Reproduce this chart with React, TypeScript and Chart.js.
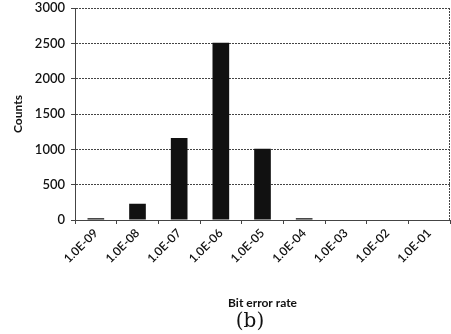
import React, { useEffect, useRef } from "react";
import { Chart, registerables } from "chart.js";

Chart.register(...registerables);

const categories = ["1.0E-09", "1.0E-08", "1.0E-07", "1.0E-06", "1.0E-05", "1.0E-04", "1.0E-03", "1.0E-02", "1.0E-01"];
const counts = [25, 230, 1160, 2510, 1010, 25, 0, 0, 0];
const yTicks = [0, 500, 1000, 1500, 2000, 2500, 3000];
const xTitle = "Bit error rate";
const yTitle = "Counts";
const caption = "(b)";

const framePlugin = {
  id: "frame",
  afterDatasetsDraw(chart: any) {
    const { ctx, chartArea } = chart;
    ctx.save();
    ctx.strokeStyle = "#444";
    ctx.lineWidth = 1;
    ctx.setLineDash([2, 1]);
    ctx.beginPath();
    ctx.moveTo(Math.round(chartArea.right) - 0.5, chartArea.top);
    ctx.lineTo(Math.round(chartArea.right) - 0.5, chartArea.bottom);
    ctx.stroke();
    ctx.restore();
  },
  afterDraw(chart: any) {
    const { ctx } = chart;
    ctx.save();
    ctx.fillStyle = "#111";
    ctx.font = "20px 'DejaVu Serif', serif";
    ctx.textAlign = "center";
    ctx.textBaseline = "middle";
    ctx.fillText(caption, 250, 322);
    ctx.restore();
  },
};

export default function App() {
  const ref = useRef<HTMLCanvasElement>(null);
  useEffect(() => {
    if (!ref.current) return;
    const chart = new Chart(ref.current, {
      type: "bar",
      data: {
        labels: categories,
        datasets: [
          {
            data: counts,
            backgroundColor: "#111",
            borderWidth: 0,
            barPercentage: 0.4,
            categoryPercentage: 1,
          },
        ],
      },
      options: {
        animation: false,
        responsive: false,
        maintainAspectRatio: false,
        layout: { padding: { top: 0, right: 1, bottom: 24, left: 11 } },
        plugins: { legend: { display: false }, tooltip: { enabled: false } },
        scales: {
          x: {
            offset: true,
            grid: { display: true, offset: true, drawOnChartArea: false, drawTicks: true, tickLength: 4, color: "#444" },
            border: { display: true, color: "#444", dash: [2, 1] },
            ticks: {
              autoSkip: false,
              minRotation: 45,
              maxRotation: 45,
              color: "#111",
              font: { family: "Lato", size: 12, weight: "600" },
              padding: 2,
            },
            title: {
              display: true,
              text: xTitle,
              color: "#111",
              font: { family: "Lato", size: 12, weight: "bold" },
              padding: { top: 0, bottom: 0 },
            },
            afterFit(scale: any) {
              scale.height = 90;
            },
          },
          y: {
            min: 0,
            max: 3000,
            afterBuildTicks(scale: any) {
              scale.ticks = yTicks.map((v) => ({ value: v }));
            },
            grid: { color: "#444", lineWidth: 1, tickLength: 4 },
            border: { display: true, color: "#444", dash: [2, 1] },
            ticks: {
              color: "#111",
              font: { family: "Lato", size: 13, weight: "600" },
              padding: 6,
              callback: (v: any) => String(v),
            },
            title: {
              display: true,
              text: yTitle,
              color: "#111",
              font: { family: "Lato", size: 12, weight: "bold" },
              padding: { top: 0, bottom: 2 },
            },
            afterFit(scale: any) {
              scale.width = 64;
              scale.paddingTop = 8;
            },
          },
        },
      },
      plugins: [framePlugin],
    });
    return () => chart.destroy();
  }, []);
  return (
    <div style={{ position: "fixed", left: 0, top: 0, width: 451, height: 334, background: "#fff" }}>
      <canvas ref={ref} width={451} height={334} style={{ width: 451, height: 334 }} />
    </div>
  );
}
